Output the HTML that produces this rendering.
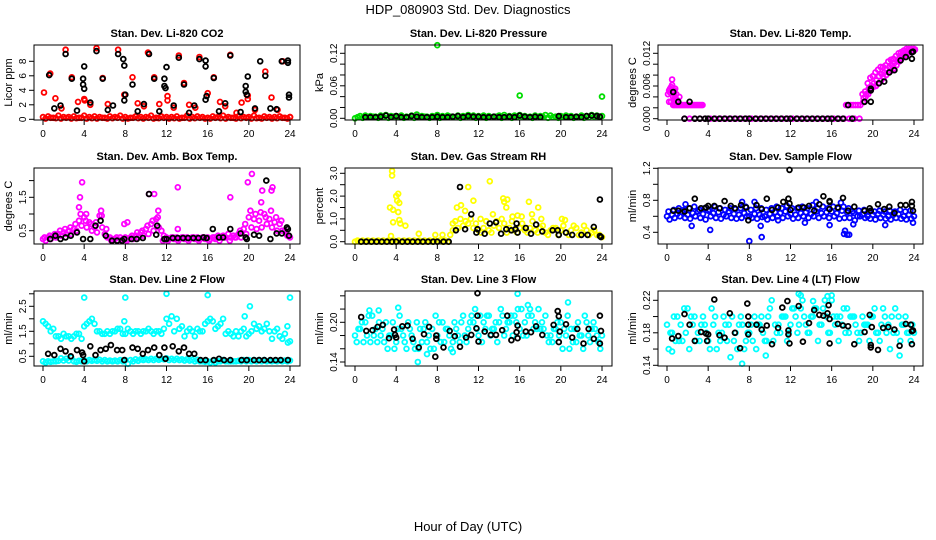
<!DOCTYPE html>
<html><head><meta charset="utf-8"><title>HDP_080903 Std. Dev. Diagnostics</title>
<style>
html,body{margin:0;padding:0;background:#fff;}
svg{display:block;font-family:"Liberation Sans",Arial,sans-serif;}
</style></head>
<body>
<svg id="chart" width="936" height="540" viewBox="0 0 936 540" xmlns="http://www.w3.org/2000/svg">
<text x="468" y="14" font-size="13" text-anchor="middle">HDP_080903  Std. Dev. Diagnostics</text>
<text x="468" y="531" font-size="13" text-anchor="middle">Hour of Day (UTC)</text>
</svg>
<script>
// ---------- shared tick data ----------
const xTicks = [0,4,8,12,16,20,24];

// ---------- P1 CO2 ----------
const co2RedA = [0.3,0.4,0.2,0.5,0.3,0.3,0.4,0.2,0.5,0.3,0.4,0.3,0.2,0.4,0.3,0.5,0.3,0.2,0.4,0.3,0.3,0.5,0.2,0.4,0.3,0.3,0.4,0.2,0.5,0.3,0.4,0.3,0.2,0.4,0.3,0.5,0.3,0.2,0.4,0.3,0.3,0.5,0.2,0.4,0.3,0.3,0.4,0.2,0.3];
const co2RedB = [0.1,0.2,0.15,0.1,0.2,0.1,0.15,0.2,0.1,0.15,0.1,0.2,0.1,0.15,0.2,0.1,0.1,0.2,0.15,0.1,0.2,0.1,0.15,0.2,0.1,0.15,0.1,0.2,0.1,0.15,0.2,0.1,0.1,0.2,0.15,0.1,0.2,0.1,0.15,0.2,0.1,0.15,0.1,0.2,0.1,0.15,0.2,0.1];
const co2RedOutH = [0.1,0.7,1.2,1.8,2.2,2.8,3.4,4,4.05,4.6,5.2,5.8,6.3,7.3,7.9,8.7,9.2,9.8,10.2,10.8,11.3,12.1,12.1,12.7,13.2,13.7,14.2,14.8,15.2,16,16.6,17.2,17.7,18.2,18.8,19.3,19.9,19.9,20.6,21.6,22.2,22.8,23.3,24];
const co2RedOutV = [3.7,6.3,2.9,1.5,9.6,5.8,2.4,2.8,2.6,2.0,9.8,5.7,2.1,9.6,3.4,5.8,2.2,1.8,9.2,5.8,2.1,3.2,2.6,1.6,8.8,5.0,2.0,1.6,8.6,3.6,5.8,2.4,1.8,8.9,0.9,2.3,3.3,2.8,1.3,6.6,3.0,1.3,8.0,0.3];
const co2BlackH = [0.6,1.1,1.7,2.2,2.8,3.3,3.9,3.9,4.0,4.0,4.6,5.2,5.8,6.3,6.8,7.3,7.8,7.9,7.9,8,8.7,9.2,9.8,10.3,10.8,11.3,11.8,11.8,11.9,12,12.7,13.2,13.7,14.2,14.7,15.2,15.8,15.8,15.8,15.9,16.6,17.1,17.7,18.2,19.2,19.7,19.7,19.8,19.9,20.6,21.1,21.6,22.1,22.7,23.2,23.8,23.8,23.9,23.9];
const co2BlackV = [6.1,1.5,1.9,9.0,5.6,1.2,5.6,4.8,4.2,7.3,2.3,9.4,5.6,1.3,1.9,9.0,8.3,7.4,2.6,3.4,4.8,1.1,2.1,9.0,5.6,1.1,5.6,4.6,4.3,7.2,1.9,8.5,4.8,0.9,1.9,8.3,8.1,7.3,2.7,3.2,5.7,1.1,2.2,8.8,1.0,4.6,3.8,3.4,5.9,1.5,8.0,6.0,1.5,1.4,8.0,8.1,7.8,3.4,3.0];

// ---------- P2 Pressure ----------
const presGreenA = [0.0,0.004,0.005,0.004,0.003,0.005,0.006,0.004,0.004,0.005,0.003,0.005,0.007,0.004,0.003,0.004,0.006,0.004,0.005,0.003,0.005,0.004,0.006,0.005,0.004,0.005,0.004,0.003,0.005,0.006,0.004,0.005,0.006,0.004,0.003,0.005,0.004,0.006,0.005,0.003,0.004,0.005,0.004,0.003,0.005,0.004,0.006,0.005,0.004];
const presGreenB = [0.002,0.001,0.002,0.003,0.001,0.002,0.001,0.003,0.002,0.001,0.002,0.001,0.002,0.003,0.001,0.002,0.001,0.002,0.003,0.002,0.001,0.002,0.003,0.001,0.002,0.001,0.002,0.003,0.001,0.002,0.001,0.002,0.003,0.002,0.001,0.002,0.003,0.001,0.002,0.001,0.002,0.003,0.001,0.002,0.001,0.002,0.003,0.002];
const presGreenOutH = [8,16,24];
const presGreenOutV = [0.135,0.042,0.04];
const presBlackH = [1,1.5,2,2.5,3,3.5,4,4.5,5,5.5,6,6.5,7,7.5,8,8.5,9,9.5,10,10.5,11,11.5,12,12.5,13,13.5,14,14.5,15,15.5,16,16.5,17,17.5,18,19.8,20.5,21,21.5,22,22.5,23,23.5,23.8];
const presBlackV = [0.002,0.002,0.002,0.003,0.005,0.002,0.004,0.002,0.002,0.004,0.003,0.002,0.002,0.002,0.003,0.002,0.002,0.003,0.004,0.002,0.004,0.003,0.003,0.002,0.002,0.003,0.002,0.002,0.003,0.002,0.005,0.003,0.002,0.003,0.002,0.004,0.002,0.002,0.003,0.002,0.004,0.005,0.004,0.003];

// ---------- P3 Li-820 Temp ----------
const tmpEarlyH = [0.1,0.2,0.3,0.4,0.5,0.6,0.7,0.8,0.9,0.3,0.5,0.7,0.2,0.4,0.6,0.8,0.7,1.0,1.2,0.9];
const tmpEarlyV = [0.0045,0.0052,0.0055,0.0058,0.0062,0.0050,0.0048,0.0055,0.0045,0.0048,0.0072,0.0052,0.0031,0.0031,0.0040,0.0040,0.0035,0.0034,0.0040,0.0030];
const tmpFlatA = [0.0025,0.0025,0.0025,0.0025,0.0025,0.0025,0.0025,0.0025,0.0025,0.0025,0.0025,0.0025,0.0025,0.0025,0.0025,0.0025,0.0025,0.0025,0.0025,0.0025];
const tmpZero = [0,0,0,0,0,0,0,0,0,0,0,0,0,0,0,0,0,0,0,0,0,0,0,0,0,0,0,0,0,0,0,0,0,0,0];
const tmpFlatB = [0.0025,0.0025,0.0025,0.0025,0.0025,0.0025,0.0025];
const tmpRiseHi = [0.0045,0.005,0.0065,0.0075,0.0078,0.0085,0.009,0.0095,0.0095,0.0098,0.0105,0.0108,0.011,0.0115,0.012,0.0122,0.0125,0.0128,0.0128,0.0128,0.0128];
const tmpRiseMid = [0.0038,0.0045,0.0055,0.006,0.0065,0.007,0.0078,0.0082,0.0085,0.009,0.0095,0.0098,0.0102,0.0106,0.0112,0.0116,0.012,0.0122,0.0125,0.0127,0.0127];
const tmpRiseLo = [0.0030,0.0040,0.0045,0.0052,0.0058,0.0060,0.0065,0.0070,0.0075,0.0080,0.0085,0.0088,0.0092,0.0098,0.0105,0.0110,0.0115,0.0118,0.0122,0.0125,0.0126];
const tmpBlackH = [0.6,1.1,2.2,1.7,2.7,3.2,3.7,4,4.6,5.1,5.6,6.1,6.6,7.1,7.6,8,8.6,9.1,9.6,10.1,10.6,11.1,11.6,12,12.6,13.1,13.6,14.1,14.6,15.1,15.6,16,16.6,17.1,18.0,17.6,19.2,19.8,19.8,19.8,20.6,21.1,21.6,22.1,22.7,23.2,23.8,23.8,23.9];
const tmpBlackV = [0.0049,0.0031,0.0031,0,0,0,0,0,0,0,0,0,0,0,0,0,0,0,0,0,0,0,0,0,0,0,0,0,0,0,0,0,0,0,0,0.0025,0.0031,0.0031,0.0052,0.0055,0.0065,0.0068,0.0085,0.0089,0.0107,0.0113,0.0110,0.0122,0.0123];

// ---------- P4 Amb Box Temp ----------
const ambMagA = [0.25,0.3,0.35,0.4,0.45,0.5,0.55,0.8,0.9,0.75,0.6,0.95,0.4,0.3,0.25,0.3,0.3,0.3,0.35,0.45,0.55,0.7,0.85,0.5,0.3,0.3,0.3,0.3,0.3,0.3,0.3,0.3,0.3,0.3,0.35,0.35,0.4,0.35,0.4,0.55,0.9,0.85,0.8,1.0,0.85,0.75,0.7,0.5,0.3];
const ambMagB = [0.2,0.25,0.3,0.35,0.4,0.4,0.5,0.65,0.6,0.5,0.45,0.6,0.3,0.25,0.2,0.25,0.25,0.25,0.3,0.35,0.4,0.5,0.6,0.35,0.25,0.25,0.25,0.25,0.25,0.25,0.25,0.25,0.25,0.25,0.3,0.3,0.3,0.3,0.3,0.4,0.6,0.55,0.6,0.7,0.6,0.5,0.5,0.35];
const ambMagC = [0.3,0.35,0.4,0.5,0.55,0.6,0.7,1.0,0.8,0.7,0.75,1.1,0.55,0.2,0.3,0.2,0.2,0.35,0.45,0.5,0.65,0.8,0.9,0.2,0.2,0.3,0.2,0.3,0.2,0.3,0.2,0.3,0.2,0.3,0.2,0.3,0.2,0.3,0.5,0.7,1.1,1.0,1.05,0.9,1.1,0.9,0.8,0.4];
const ambMagOutH = [3.8,3.6,5.7,10.3,10.8,13.1,13.1,18.2,19.9,20.3,21.2,21.3,22.2,22.3,8.2,7.9,3.5,4.2,11.2];
const ambMagOutV = [1.95,1.5,0.95,1.6,1.6,1.8,0.55,1.5,1.95,2.2,1.35,1.7,1.7,1.8,0.75,0.7,1.2,1.0,1.1];
const ambBlackH = [0.7,1.2,1.7,2.2,2.7,3.3,3.9,4.6,5.1,5.6,6.1,6.7,7.2,7.7,7.9,8.6,9.1,9.7,10.3,11.1,11.0,11.8,12.0,12.6,13.1,13.6,14.1,14.6,15.1,15.6,15.9,16.5,17.1,17.5,18.2,19.2,19.7,19.8,20.5,21.0,21.7,22.1,22.7,23.2,23.7,23.8,23.9];
const ambBlackV = [0.25,0.35,0.25,0.3,0.35,0.45,0.25,0.25,0.65,0.8,0.35,0.2,0.2,0.2,0.25,0.25,0.25,0.28,1.6,0.65,0.38,0.25,0.25,0.28,0.28,0.28,0.28,0.28,0.28,0.3,0.28,0.55,0.3,0.3,0.55,0.42,0.3,0.25,0.38,0.35,2.0,0.25,0.42,0.42,0.6,0.55,0.35];

// ---------- P5 Gas Stream RH ----------
const rhYelA = [0,0,0,0,0,0,0,0,0,0,0,0,0,0,0,0,0,0,0,0.5,0.6,0.7,0.8,0.6,0.5,0.6,0.5,0.7,0.6,0.8,0.6,0.5,0.6,0.5,0.6,0.5,0.6,0.4,0.5,0.6,0.5,0.4,0.5,0.6,0.4,0.5,0.4,0.3,0.2];
const rhYelB = [0.05,0.05,0.05,0.05,0.05,0.05,0.05,0.05,0.05,0.05,0.05,0.05,0.05,0.05,0.05,0.05,0.05,0.05,0.3,0.9,1.0,0.9,1.0,0.8,0.4,0.9,0.4,0.9,1.0,0.4,0.9,0.4,0.8,0.4,0.9,0.4,0.7,0.3,0.6,0.3,0.7,0.3,0.7,0.3,0.7,0.3,0.5,0.3];
const rhYelOutH = [3.6,3.6,3.4,3.7,4.0,4.2,4.1,4.3,4.2,4.3,3.7,4.4,4.9,3.5,6.2,7.8,8.5,9.5,9.9,10.3,11,11.5,13.1,13.4,14.4,14.5,14.8,14.7,15.8,16.2,16.9,17.2,17.8,18.1,20.1,20.4,10.7,12.2,15.3];
const rhYelOutV = [3.1,2.9,1.5,1.4,2.0,2.1,1.8,1.7,1.3,0.95,0.85,0.8,0.7,0.25,0.35,0.3,0.3,0.8,1.5,1.6,2.4,1.8,2.65,1.2,1.9,1.75,1.85,1.5,1.15,1.1,1.75,1.2,1.5,1.0,1.0,0.95,1.35,1.0,1.1];
const rhBlackH = [0.6,1.1,1.6,2.1,2.6,3.1,3.6,4.0,4.6,5.1,5.6,6.1,6.6,7.1,7.6,8.0,8.6,9.1,9.8,10.2,10.7,11.3,11.8,11.9,12.6,13.1,13.7,14.2,14.7,15.2,15.6,15.7,15.8,16.6,17.1,17.6,18.2,19.2,19.7,19.8,20.5,21.1,22.0,22.6,23.2,23.8,23.8,23.9];
const rhBlackV = [0,0,0,0,0,0,0,0,0,0,0,0,0,0,0,0,0,0,0.5,2.4,0.55,1.2,0.4,0.55,0.35,0.8,0.85,0.35,0.55,0.5,0.55,0.8,0.4,0.6,0.35,0.75,0.45,0.5,0.5,0.3,0.4,0.3,0.3,0.3,0.65,0.25,1.85,0.2];

// ---------- P6 Sample Flow ----------
const sfBlueA = [0.6,0.62,0.63,0.65,0.62,0.64,0.66,0.63,0.67,0.64,0.65,0.62,0.66,0.63,0.62,0.64,0.6,0.63,0.62,0.6,0.63,0.65,0.64,0.66,0.63,0.62,0.64,0.65,0.63,0.66,0.64,0.65,0.66,0.64,0.67,0.65,0.66,0.6,0.62,0.6,0.62,0.63,0.62,0.6,0.62,0.63,0.6,0.62,0.6];
const sfBlueB = [0.56,0.58,0.6,0.58,0.57,0.6,0.58,0.56,0.6,0.58,0.57,0.6,0.58,0.57,0.58,0.6,0.58,0.57,0.59,0.56,0.58,0.6,0.58,0.6,0.57,0.58,0.6,0.58,0.6,0.58,0.6,0.58,0.6,0.57,0.58,0.58,0.55,0.6,0.58,0.57,0.56,0.58,0.57,0.56,0.58,0.57,0.56,0.57];
const sfBlueC = [0.66,0.68,0.7,0.68,0.7,0.72,0.68,0.7,0.68,0.72,0.7,0.68,0.7,0.69,0.7,0.72,0.68,0.7,0.7,0.68,0.7,0.72,0.7,0.73,0.7,0.7,0.72,0.7,0.74,0.7,0.72,0.7,0.72,0.7,0.72,0.7,0.64,0.67,0.68,0.66,0.66,0.67,0.66,0.67,0.66,0.68,0.66,0.67];
const sfBlueOutH = [2.4,4.2,8,9.2,9.1,17.2,17.3,17.5,17.7,15.8,18.1,21.2,23.9,7.3,8.5,14.5,16.9,1.8,13.4,10.8];
const sfBlueOutV = [0.48,0.43,0.29,0.34,0.48,0.38,0.42,0.37,0.37,0.49,0.5,0.49,0.52,0.78,0.78,0.78,0.77,0.75,0.52,0.55];
const sfBlackH = [0.6,1.1,1.7,2.2,2.7,3.3,3.8,4,4.6,5.1,5.6,6.2,6.6,7.2,7.7,7.9,8.7,9.2,9.7,10.2,10.8,11.3,11.8,11.9,11.9,12,12.8,13.3,13.8,14.3,14.8,15.2,15.8,15.8,15.8,16.6,17.1,17.6,18.2,19.2,19.7,19.8,20.5,21.1,21.6,22.1,22.7,23.2,23.8,23.8,23.9];
const sfBlackV = [0.67,0.67,0.66,0.70,0.82,0.70,0.71,0.73,0.73,0.70,0.79,0.73,0.70,0.74,0.71,0.55,0.74,0.69,0.82,0.68,0.71,0.78,0.82,1.18,0.76,0.68,0.71,0.71,0.73,0.67,0.75,0.85,0.79,0.78,0.69,0.71,0.83,0.67,0.72,0.67,0.70,0.67,0.75,0.69,0.72,0.64,0.74,0.74,0.78,0.73,0.67];

// ---------- P7 Line 2 Flow ----------
const l2CyanLowA = [0.3,0.3,0.3,0.32,0.33,0.33,0.3,0.32,0.35,0.35,0.35,0.36,0.35,0.33,0.33,0.35,0.35,0.35,0.38,0.38,0.38,0.4,0.4,0.4,0.42,0.4,0.4,0.38,0.38,0.36,0.36,0.3,0.3,0.32,0.3,0.35,0.3,0.3,0.32,0.35,0.35,0.35,0.35,0.35,0.32,0.32,0.33,0.33,0.33];
const l2CyanLowB = [0.25,0.28,0.3,0.42,0.4,0.45,0.28,0.3,0.3,0.32,0.32,0.3,0.3,0.3,0.3,0.3,0.2,0.3,0.32,0.35,0.35,0.35,0.36,0.38,0.35,0.35,0.35,0.33,0.33,0.3,0.3,0.28,0.25,0.25,0.3,0.3,0.3,0.3,0.3,0.3,0.3,0.3,0.3,0.3,0.3,0.3,0.3,0.3];
const l2CyanHighA = [1.9,1.7,1.6,1.3,1.4,1.3,1.3,1.4,1.7,1.9,1.8,1.5,1.4,1.4,1.5,1.6,1.4,1.5,1.5,1.4,1.5,1.5,1.5,1.4,2.0,2.1,2.0,1.7,1.5,1.5,1.6,1.5,1.9,1.9,1.7,2.0,1.5,1.3,1.3,1.6,1.4,1.8,1.7,1.6,1.5,1.5,1.3,1.4,1.1];
const l2CyanHighB = [1.8,1.5,1.3,1.2,1.3,1.2,1.4,1.2,1.8,2.0,1.5,1.4,1.5,1.5,1.6,1.4,1.6,1.4,1.5,1.5,1.6,1.4,1.5,1.6,1.8,1.5,1.6,1.3,1.6,1.3,1.5,1.8,2.0,1.6,1.8,1.4,1.4,1.5,1.5,1.3,1.5,1.6,1.5,1.8,1.2,1.6,1.2,1.7];
const l2CyanOutH = [4,8,12,16,20.1,24,19.6,23.8,7.9];
const l2CyanOutV = [2.85,2.85,3.0,2.95,2.5,2.85,2.1,1.05,1.9];
const l2BlackH = [0.5,1.1,1.7,2.2,2.7,3.3,3.8,3.9,4,4.6,5.1,5.6,6.1,6.6,7.2,7.7,7.9,8.7,9.2,9.7,10.2,10.8,11.3,11.8,11.9,12.6,13.2,13.7,14.2,14.7,15.3,15.8,16.6,17.1,17.6,18.2,19.3,19.8,20.5,21,21.5,22.1,22.6,23.1,23.8];
const l2BlackV = [0.6,0.55,0.8,0.7,0.5,0.75,0.65,0.55,0.3,0.9,0.55,0.75,0.8,0.95,0.75,0.75,0.35,0.85,0.8,0.6,0.75,0.85,0.55,0.85,0.4,0.9,0.7,0.85,0.6,0.6,0.35,0.35,0.35,0.4,0.35,0.35,0.35,0.35,0.35,0.35,0.35,0.35,0.35,0.35,0.35];

// ---------- P8 Line 3 Flow ----------
const l3CyanA = [0.18,0.19,0.2,0.17,0.19,0.18,0.2,0.18,0.17,0.19,0.16,0.18,0.2,0.17,0.17,0.19,0.18,0.2,0.19,0.17,0.18,0.21,0.19,0.2,0.18,0.2,0.21,0.19,0.2,0.18,0.2,0.21,0.19,0.2,0.22,0.2,0.19,0.21,0.18,0.19,0.2,0.18,0.19,0.17,0.18,0.2,0.19,0.18,0.18];
const l3CyanB = [0.17,0.2,0.18,0.21,0.17,0.19,0.16,0.2,0.19,0.18,0.2,0.17,0.16,0.19,0.18,0.16,0.2,0.17,0.18,0.2,0.17,0.18,0.2,0.22,0.21,0.19,0.18,0.2,0.22,0.19,0.21,0.2,0.22,0.18,0.21,0.19,0.2,0.18,0.17,0.2,0.16,0.21,0.17,0.2,0.16,0.18,0.2,0.17];
const l3CyanC = [0.19,0.17,0.21,0.18,0.2,0.17,0.18,0.16,0.21,0.17,0.19,0.16,0.19,0.2,0.16,0.21,0.17,0.19,0.16,0.19,0.2,0.17,0.21,0.19,0.17,0.21,0.19,0.17,0.21,0.2,0.18,0.22,0.18,0.21,0.19,0.22,0.19,0.17,0.19,0.18,0.19,0.16,0.19,0.18,0.21,0.17,0.19,0.16];
const l3CyanOutH = [6.1,15.8,20.7,4.2,1.4,2.3,16.8,7.0,9.5];
const l3CyanOutV = [0.14,0.243,0.23,0.222,0.218,0.218,0.226,0.152,0.155];
const l3BlackH = [0.6,1.1,1.7,2.2,2.7,3.3,3.8,3.9,4,4.6,5.1,5.6,6.2,6.7,7.2,7.8,7.9,7.9,8.6,9.2,9.7,10.2,10.8,11.3,11.8,11.9,11.9,12,12.6,13.2,13.7,14.3,14.8,15.2,15.7,15.8,15.8,16.6,17.1,17.6,18.2,19.3,19.7,19.8,19.8,19.9,20.5,21.1,21.6,22.2,22.7,23.2,23.8,23.8,23.9];
const l3BlackV = [0.208,0.187,0.188,0.193,0.196,0.176,0.189,0.181,0.177,0.194,0.195,0.175,0.162,0.182,0.193,0.148,0.18,0.175,0.162,0.187,0.179,0.163,0.177,0.181,0.191,0.244,0.21,0.171,0.186,0.181,0.181,0.188,0.21,0.173,0.185,0.176,0.195,0.186,0.185,0.194,0.181,0.196,0.217,0.209,0.17,0.186,0.197,0.177,0.19,0.168,0.19,0.175,0.21,0.168,0.187];

// ---------- P9 Line 4 (LT) Flow ----------
const l4CyanA = [0.19,0.18,0.2,0.17,0.21,0.19,0.18,0.2,0.17,0.19,0.18,0.2,0.19,0.17,0.19,0.16,0.18,0.2,0.19,0.17,0.21,0.19,0.18,0.2,0.19,0.2,0.21,0.19,0.2,0.21,0.19,0.2,0.22,0.2,0.19,0.21,0.2,0.18,0.2,0.19,0.2,0.18,0.21,0.19,0.18,0.2,0.19,0.18,0.18];
const l4CyanB = [0.16,0.2,0.17,0.21,0.16,0.2,0.17,0.19,0.16,0.2,0.17,0.19,0.15,0.18,0.2,0.17,0.19,0.16,0.2,0.17,0.22,0.18,0.2,0.17,0.21,0.18,0.22,0.18,0.2,0.17,0.21,0.18,0.2,0.17,0.21,0.18,0.2,0.17,0.19,0.17,0.21,0.17,0.2,0.16,0.21,0.17,0.2,0.17];
const l4CyanC = [0.18,0.17,0.19,0.18,0.2,0.17,0.19,0.18,0.21,0.16,0.18,0.17,0.2,0.16,0.19,0.18,0.17,0.19,0.18,0.2,0.17,0.19,0.2,0.18,0.21,0.19,0.2,0.18,0.21,0.19,0.22,0.18,0.19,0.2,0.18,0.2,0.19,0.18,0.19,0.2,0.18,0.19,0.18,0.2,0.18,0.19,0.18,0.19];
const l4CyanOutH = [7.3,12.8,13.0,15.6,16.0,9.6,0.5,22.6,14.2];
const l4CyanOutV = [0.142,0.228,0.226,0.225,0.226,0.152,0.157,0.152,0.219];
const l4BlackH = [0.5,1.1,1.7,2.2,2.7,3.3,3.8,3.9,4,4.6,5.1,5.6,6.1,6.6,7.1,7.8,7.9,7.9,7.9,8.7,9.2,9.7,10.2,10.8,11.2,11.7,11.8,11.8,11.9,12.8,13.2,13.8,14.3,14.8,15.2,15.6,15.7,15.8,15.8,16.6,17.1,17.6,18.2,19.2,19.7,19.8,19.8,19.9,20.5,21,21.5,22.1,22.6,23.2,23.7,23.8,23.8,23.9];
const l4BlackV = [0.173,0.176,0.203,0.19,0.17,0.181,0.179,0.17,0.178,0.221,0.177,0.174,0.204,0.18,0.161,0.216,0.2,0.19,0.178,0.19,0.184,0.189,0.166,0.186,0.211,0.219,0.183,0.178,0.167,0.213,0.169,0.192,0.208,0.202,0.201,0.204,0.214,0.167,0.197,0.191,0.189,0.188,0.166,0.181,0.202,0.165,0.162,0.187,0.159,0.186,0.187,0.184,0.164,0.191,0.19,0.182,0.166,0.183];

// ---------- layout (geometry only) ----------
const COLS = [{l:34,r:300,x0:43,x24:290},{l:345,r:612,x0:355,x24:602},{l:658,r:923,x0:667,x24:914}];
const ROWS = [{t:45,b:120},{t:168,b:244},{t:291,b:366}];
const RED="#ff0000", GRN="#00dd00", MAG="#ff00ff", YEL="#ffff00", BLU="#0000ff", CYN="#00ffff", BLK="#000000";

function seq(start, step, arr){ return arr.map((_, i) => start + i*step); }

const panels = [
 {name:'co2', title:'Stan. Dev. Li-820 CO2', ylab:'Licor ppm', c:0, r:0, ya:{v0:0,p0:119.3,v1:8,p1:61.3},
  ticks:[0,2,4,6,8], labels:['0','2','4','6','8'],
  series:[[seq(0,0.5,co2RedA),co2RedA,RED],[seq(0.25,0.5,co2RedB),co2RedB,RED],[co2RedOutH,co2RedOutV,RED],[co2BlackH,co2BlackV,BLK]]},
 {name:'pressure', title:'Stan. Dev. Li-820 Pressure', ylab:'kPa', c:1, r:0, ya:{v0:0,p0:118.3,v1:0.12,p1:53.3},
  ticks:[0,0.02,0.04,0.06,0.08,0.10,0.12], labels:['0.00','','','0.06','','','0.12'],
  series:[[seq(0,0.5,presGreenA),presGreenA,GRN],[seq(0.25,0.5,presGreenB),presGreenB,GRN],[presGreenOutH,presGreenOutV,GRN],[presBlackH,presBlackV,BLK]]},
 {name:'li820-temp', title:'Stan. Dev. Li-820 Temp.', ylab:'degrees C', c:2, r:0, ya:{v0:0,p0:118.7,v1:0.012,p1:53.3},
  ticks:[0,0.002,0.004,0.006,0.008,0.010,0.012], labels:['0.000','','','0.006','','','0.012'],
  series:[[tmpEarlyH,tmpEarlyV,MAG],[seq(0.6,0.15,tmpFlatA),tmpFlatA,MAG],[seq(1.7,0.5,tmpZero),tmpZero,MAG],[seq(17.4,0.23,tmpFlatB),tmpFlatB,MAG],
   [seq(19,0.25,tmpRiseHi),tmpRiseHi,MAG],[seq(19.1,0.25,tmpRiseMid),tmpRiseMid,MAG],[seq(19.05,0.25,tmpRiseLo),tmpRiseLo,MAG],[tmpBlackH,tmpBlackV,BLK]]},
 {name:'amb-box-temp', title:'Stan. Dev. Amb. Box Temp.', ylab:'degrees C', c:0, r:1, ya:{v0:0.5,p0:230.7,v1:1.5,p1:197.3},
  ticks:[0.5,1.0,1.5,2.0], labels:['0.5','','1.5',''],
  series:[[seq(0,0.5,ambMagA),ambMagA,MAG],[seq(0.25,0.5,ambMagB),ambMagB,MAG],[seq(0.15,0.5,ambMagC),ambMagC,MAG],[ambMagOutH,ambMagOutV,MAG],[ambBlackH,ambBlackV,BLK]]},
 {name:'gas-stream-rh', title:'Stan. Dev. Gas Stream RH', ylab:'percent', c:1, r:1, ya:{v0:0,p0:241.7,v1:3,p1:173.3},
  ticks:[0,0.5,1,1.5,2,2.5,3], labels:['0.0','','1.0','','2.0','','3.0'],
  series:[[seq(0,0.5,rhYelA),rhYelA,YEL],[seq(0.25,0.5,rhYelB),rhYelB,YEL],[rhYelOutH,rhYelOutV,YEL],[rhBlackH,rhBlackV,BLK]]},
 {name:'sample-flow', title:'Stan. Dev. Sample Flow', ylab:'ml/min', c:2, r:1, ya:{v0:0.4,p0:232.3,v1:1.2,p1:168.3},
  ticks:[0.4,0.6,0.8,1.0,1.2], labels:['0.4','','0.8','','1.2'],
  series:[[seq(0,0.5,sfBlueA),sfBlueA,BLU],[seq(0.25,0.5,sfBlueB),sfBlueB,BLU],[seq(0.15,0.5,sfBlueC),sfBlueC,BLU],[sfBlueOutH,sfBlueOutV,BLU],[sfBlackH,sfBlackV,BLK]]},
 {name:'line2-flow', title:'Stan. Dev. Line 2 Flow', ylab:'ml/min', c:0, r:2, ya:{v0:0.5,p0:356.3,v1:2.5,p1:306.3},
  ticks:[0.5,1,1.5,2,2.5,3], labels:['0.5','','1.5','','2.5',''],
  series:[[seq(0,0.5,l2CyanLowA),l2CyanLowA,CYN],[seq(0.25,0.5,l2CyanLowB),l2CyanLowB,CYN],[seq(0,0.5,l2CyanHighA),l2CyanHighA,CYN],[seq(0.25,0.5,l2CyanHighB),l2CyanHighB,CYN],[l2CyanOutH,l2CyanOutV,CYN],[l2BlackH,l2BlackV,BLK]]},
 {name:'line3-flow', title:'Stan. Dev. Line 3 Flow', ylab:'ml/min', c:1, r:2, ya:{v0:0.14,p0:362,v1:0.20,p1:322.3},
  ticks:[0.14,0.16,0.18,0.20,0.22,0.24], labels:['0.14','','','0.20','',''],
  series:[[seq(0,0.5,l3CyanA),l3CyanA,CYN],[seq(0.17,0.5,l3CyanB),l3CyanB,CYN],[seq(0.33,0.5,l3CyanC),l3CyanC,CYN],[l3CyanOutH,l3CyanOutV,CYN],[l3BlackH,l3BlackV,BLK]]},
 {name:'line4-flow', title:'Stan. Dev. Line 4 (LT) Flow', ylab:'ml/min', c:2, r:2, ya:{v0:0.14,p0:365.3,v1:0.22,p1:300.3},
  ticks:[0.14,0.16,0.18,0.20,0.22], labels:['0.14','','0.18','','0.22'],
  series:[[seq(0,0.5,l4CyanA),l4CyanA,CYN],[seq(0.17,0.5,l4CyanB),l4CyanB,CYN],[seq(0.33,0.5,l4CyanC),l4CyanC,CYN],[l4CyanOutH,l4CyanOutV,CYN],[l4BlackH,l4BlackV,BLK]]}
];

const NS = "http://www.w3.org/2000/svg";
const svg = document.getElementById('chart');
function mk(tag, attrs, parent){
  const e = document.createElementNS(NS, tag);
  for (const k in attrs) e.setAttribute(k, attrs[k]);
  parent.appendChild(e);
  return e;
}

panels.forEach(p => {
  const col = COLS[p.c], row = ROWS[p.r];
  const xs = h => col.x0 + (h/24)*(col.x24 - col.x0);
  const ys = v => p.ya.p0 + (v - p.ya.v0)*(p.ya.p1 - p.ya.p0)/(p.ya.v1 - p.ya.v0);
  const g = mk('g', {}, svg);
  
  

  const t = mk('text', {x:(col.l+col.r)/2, y:row.t-8, 'font-size':11, 'font-weight':'bold', 'text-anchor':'middle'}, g);
  t.textContent = p.title;
  
  

  const yl = mk('text', {transform:`translate(${col.l-22},${(row.t+row.b)/2}) rotate(-90)`, 'font-size':11, 'text-anchor':'middle'}, g);
  yl.textContent = p.ylab;
  
  

  const mg = mk('g', {fill:'none', 'stroke-width':1.8}, g);
  
  
  p.series.forEach(s => {
    const [hs, vs, color] = s;
    vs.forEach((v, i) => {
      const c = mk('circle', {cx:xs(hs[i]).toFixed(1), cy:ys(v).toFixed(1), r:2.4, stroke:color}, mg);
      
      
    });
  });

  const box = mk('rect', {x:col.l, y:row.t, width:col.r-col.l, height:row.b-row.t, fill:'none', stroke:'#000', 'stroke-width':1}, g);
  
  

  const xa = mk('g', {'font-size':10, 'text-anchor':'middle'}, g);
  
  
  mk('line', {x1:xs(0), x2:xs(24), y1:row.b, y2:row.b, stroke:'#000'}, xa);
  xTicks.forEach(h => {
    mk('line', {x1:xs(h), x2:xs(h), y1:row.b, y2:row.b+5, stroke:'#000'}, xa);
    const tl = mk('text', {x:xs(h), y:row.b+17}, xa);
    tl.textContent = h;
    
    
  });

  const ya = mk('g', {'font-size':10, 'text-anchor':'middle'}, g);
  
  
  p.ticks.forEach((v, i) => {
    const y = ys(v);
    mk('line', {x1:col.l-5, x2:col.l, y1:y, y2:y, stroke:'#000'}, ya);
    if (p.labels[i]) {
      const tl = mk('text', {transform:`translate(${col.l-8},${y}) rotate(-90)`}, ya);
      tl.textContent = p.labels[i];
      
      
    }
  });
});
</script>
</body></html>
